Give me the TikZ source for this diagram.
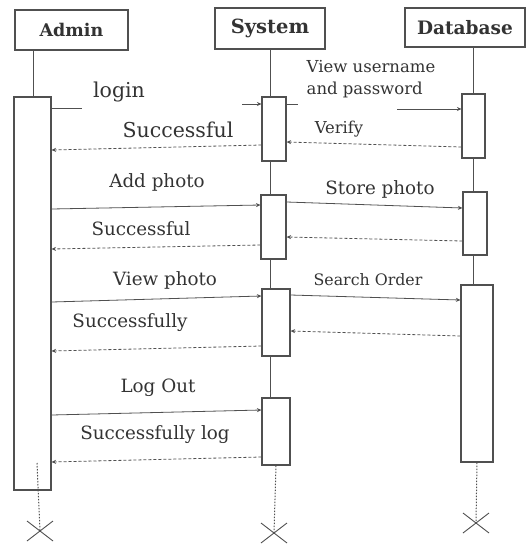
\documentclass[tikz,border=0pt]{standalone}
\usepackage{fontspec}
\setmainfont{DejaVu Serif}
\usetikzlibrary{arrows.meta,calc}
\definecolor{ln}{HTML}{505050}
\definecolor{tx}{HTML}{333333}
\tikzset{
  hdr/.style={draw=ln, line width=1.1pt, fill=white, inner sep=0pt, text=tx, font=\bfseries\fontsize{18.5}{20}\selectfont},
  act/.style={draw=ln, line width=1.1pt, fill=white, inner sep=0pt},
  life/.style={draw=ln, line width=0.7pt},
  dots/.style={draw=ln, line width=1pt, dash pattern=on 1.5pt off 1.5pt},
  msg/.style={draw=ln, line width=0.8pt},
  ret/.style={draw=ln, line width=0.8pt, dash pattern=on 3pt off 2pt},
  tip/.style={-{Stealth[length=4.5pt,width=4pt]}},
  lab/.style={text=tx, inner sep=0pt, font=\fontsize{18.3}{20}\selectfont},
  xmark/.style={draw=ln, line width=0.9pt}
}
\begin{document}
\begin{tikzpicture}[x=1pt,y=-1pt]
\useasboundingbox (0,0) rectangle (531,547);
% headers
\node[hdr, minimum width=113pt, minimum height=40pt, font=\bfseries\fontsize{17.5}{20}\selectfont] (hA) at (71.5,30) {Admin};
\node[hdr, minimum width=110pt, minimum height=41pt, font=\bfseries\fontsize{19.5}{21}\selectfont] (hS) at (270,28.5) {System};
\node[hdr, minimum width=120pt, minimum height=39pt] (hD) at (465,27.5) {Database};
% lifelines (solid)
\draw[life] (33,50) -- (33,97);
\draw[life] (hS.south) -- (hS.south |- 0,465);
\draw[life] (473,47) -- (473,462);
% activation boxes
\node[act, minimum width=37pt, minimum height=393pt] (aA) at (32.5,293.5) {};
\node[act, minimum width=24pt, minimum height=64pt] (s1) at (274,129) {};
\node[act, minimum width=25pt, minimum height=64pt] (s2) at (273.5,227) {};
\node[act, minimum width=28pt, minimum height=67pt] (s3) at (276,322.5) {};
\node[act, minimum width=28pt, minimum height=67pt] (s4) at (276,431.5) {};
\node[act, minimum width=23pt, minimum height=64pt] (d1) at (473.5,126) {};
\node[act, minimum width=24pt, minimum height=63pt] (d2) at (475,223.5) {};
\node[act, minimum width=32pt, minimum height=177pt] (d3) at (477,373.5) {};
% dotted lifeline ends and destruction marks
\coordinate (xA) at (40,531);
\coordinate (xS) at (274,533);
\coordinate (xD) at (476,523);
\draw[dots] (37,463) -- (xA);
\draw[dots] (s4.south) -- (xS);
\draw[dots] (d3.south) -- (xD);
\foreach \c in {xA,xS,xD}{
  \draw[xmark] ($(\c)+(-13,-10)$) -- ($(\c)+(13,10)$);
  \draw[xmark] ($(\c)+(-13,10)$) -- ($(\c)+(13,-10)$);
}
% login (broken line)
\coordinate (l1) at (82,108);
\coordinate (l2) at (242,104);
\draw[msg] (aA.east |- 0,108) -- (l1);
\draw[msg,tip] (l2) -- (s1.west |- 0,104);
\node[lab, font=\fontsize{20.5}{22}\selectfont] (tlogin) at (119,92) {login};
% view username and password (broken line)
\coordinate (v1) at (298,104);
\coordinate (v2) at (397,109);
\draw[msg] (s1.east |- 0,104) -- (v1);
\draw[msg,tip] (v2) -- (d1.west |- 0,109);
\node[lab, font=\fontsize{16.5}{22}\selectfont, align=left] (tview) at (371,79) {View username\\and password};
% returns 1
\draw[ret,tip] (d1.west |- 0,147) -- (s1.east |- 0,142);
\node[lab, font=\fontsize{16.4}{18}\selectfont] (tverify) at (339,129) {Verify};
\draw[ret,tip] (s1.west |- 0,145) -- (aA.east |- 0,150);
\node[lab, font=\fontsize{20.5}{22}\selectfont] (tsucc1) at (178,130) {Successful};
% add photo
\draw[msg,tip] (aA.east |- 0,209) -- (s2.west |- 0,205);
\node[lab] (tadd) at (157,182) {Add photo};
\draw[msg,tip] (s2.east |- 0,202) -- (d2.west |- 0,208);
\node[lab] (tstore) at (380,189) {Store photo};
\draw[ret,tip] (d2.west |- 0,241) -- (s2.east |- 0,237);
\draw[ret,tip] (s2.west |- 0,245) -- (aA.east |- 0,249);
\node[lab] (tsucc2) at (141,229) {Successful};
% view photo
\draw[msg,tip] (aA.east |- 0,302) -- (s3.west |- 0,296);
\node[lab] (tviewp) at (165,280) {View photo};
\draw[msg,tip] (s3.east |- 0,295) -- (d3.west |- 0,300);
\node[lab, font=\fontsize{15.8}{18}\selectfont] (tsearch) at (368,280) {Search Order};
\draw[ret,tip] (d3.west |- 0,336) -- (s3.east |- 0,331);
\draw[ret,tip] (s3.west |- 0,346) -- (aA.east |- 0,351);
\node[lab] (tsucc3) at (130,323) {Successfully};
% log out
\draw[msg,tip] (aA.east |- 0,415) -- (s4.west |- 0,410);
\node[lab] (tlog) at (158,388) {Log Out};
\draw[ret,tip] (s4.west |- 0,457) -- (aA.east |- 0,462);
\node[lab] (tsucc4) at (155,435) {Successfully log};
\end{tikzpicture}
\end{document}
